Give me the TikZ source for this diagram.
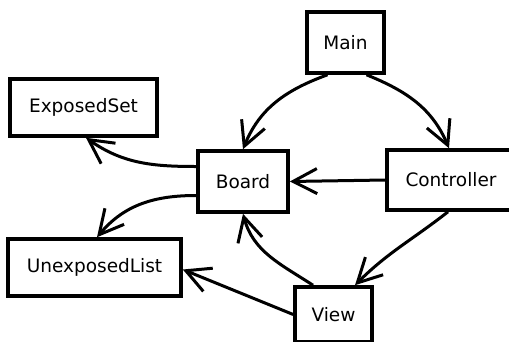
\documentclass[tikz,border=0pt]{standalone}
\usepackage{fontspec}
\setmainfont{DejaVu Sans}
\usepackage{tikz}
\usetikzlibrary{arrows.meta,shapes}

\begin{document}
\begin{tikzpicture}[->,>={Straight Barb[length=24pt,width=25pt]},x=1pt,y=1pt,line width=3pt,font=\fontsize{18.5}{21}\selectfont]
 \tikzstyle{every class}=[draw,rectangle,inner sep=0pt,line width=3.6pt]
 \useasboundingbox (0,0) rectangle (509,-341);

   \node[every class,minimum width=77,minimum height=61] (main) at (345.5,-42.5) {Main};
   \node[every class,minimum width=147,minimum height=57] (exposed) at (83.5,-107.5) {ExposedSet};
   \node[every class,minimum width=90,minimum height=61] (board) at (243,-181.5) {Board};
   \node[every class,minimum width=128,minimum height=60] (controller) at (451,-180) {Controller};
   \node[every class,minimum width=173,minimum height=57] (unexposed) at (94.5,-267.5) {UnexposedList};
   \node[every class,minimum width=77,minimum height=55] (view) at (333.5,-314.5) {View};

   \path[->]
   ([xshift=-18pt]main.south) edge [out=200,in=68] (board.north)
   ([xshift=21pt]main.south) edge [out=-22,in=113] ([xshift=-2pt]controller.north)
   (controller.west) edge (board.east)
   ([xshift=-3pt]controller.south) edge [out=-142,in=45] ([xshift=21.5pt]view.north)
   ([xshift=-20.5pt]view.north) edge [out=147,in=-75] (board.south)
   ([yshift=15pt]board.west) edge [out=180,in=-35] ([xshift=2.5pt]exposed.south)
   ([yshift=-14pt]board.west) edge [out=180,in=50] ([xshift=2.5pt]unexposed.north)
   (view.west) edge ([yshift=-2pt]unexposed.east);

\end{tikzpicture}
\end{document}
